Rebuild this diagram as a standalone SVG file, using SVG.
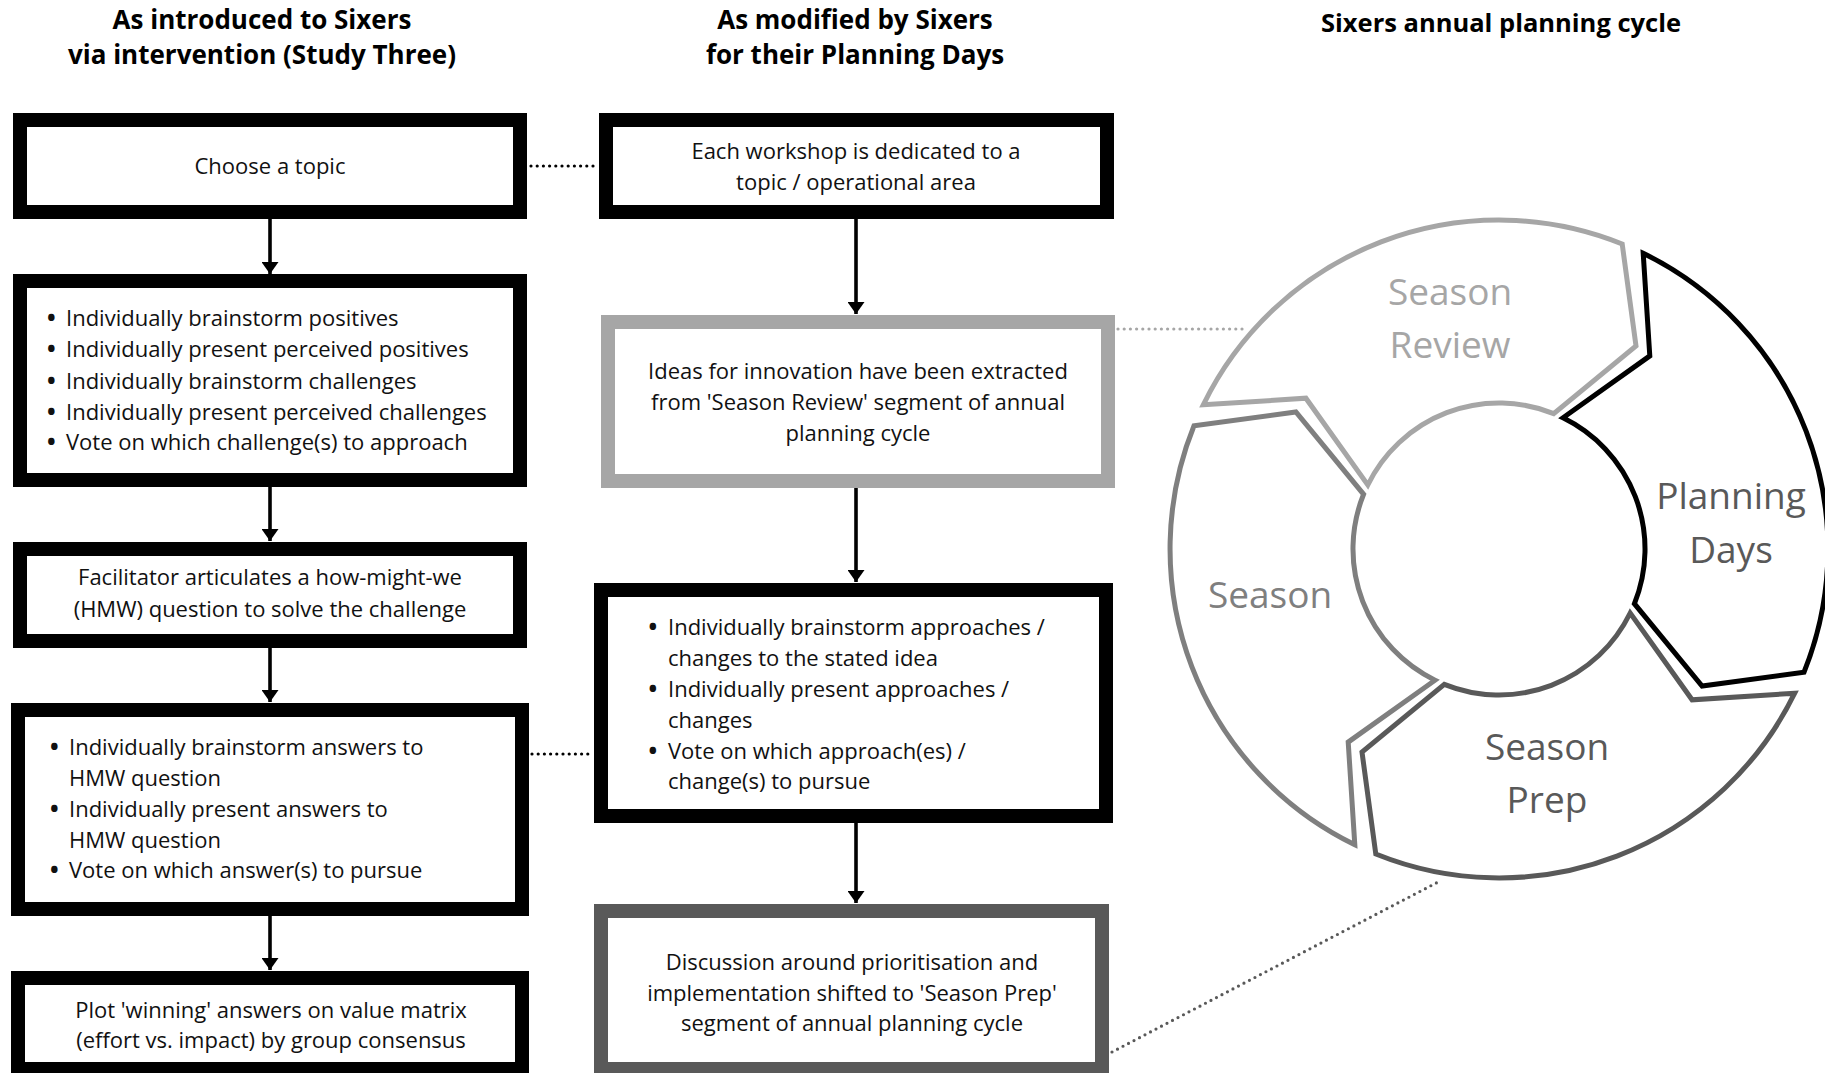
<svg xmlns="http://www.w3.org/2000/svg" width="1825" height="1073" viewBox="0 0 1825 1073">
<style>
  .title{font-family:"Open Sans","Noto Sans",sans-serif;font-weight:bold;font-size:26px;fill:#000;text-anchor:middle}
  .t{font-family:"Open Sans","Noto Sans",sans-serif;font-size:22px;fill:#111}
  .c{text-anchor:middle}
  .b{font-size:23px;font-weight:bold}
  .box{fill:#fff;stroke:#000;stroke-width:14}
  .lg{stroke:#a6a6a6}
  .dg{stroke:#595959}
  .arrow{stroke:#000;stroke-width:3.6;fill:none;marker-end:url(#ah)}
  .dot{fill:none;stroke-width:3.2;stroke-linecap:round;stroke-dasharray:0 6.2}
  .seg{fill:#fff;stroke-width:5;stroke-linejoin:miter}
  .lab{font-family:"Open Sans","Noto Sans",sans-serif;font-size:37px;text-anchor:middle}
</style>
<defs>
  <marker id="ah" markerUnits="userSpaceOnUse" markerWidth="13" markerHeight="17" refX="12" refY="8.5" orient="auto">
    <path d="M0,0 L12,8.5 L0,17 Z" fill="#000"/>
  </marker>
</defs>
<rect width="1825" height="1073" fill="#fff"/>

<g id="titles">
  <text class="title" x="262" y="29">As introduced to Sixers</text>
  <text class="title" x="262" y="64">via intervention (Study Three)</text>
  <text class="title" x="855" y="29">As modified by Sixers</text>
  <text class="title" x="855" y="64">for their Planning Days</text>
  <text class="title" x="1501" y="32" style="font-size:25.5px">Sixers annual planning cycle</text>
</g>

<g id="connectors">
  <line class="arrow" x1="270" y1="219" x2="270" y2="274"/>
  <line class="arrow" x1="270" y1="487" x2="270" y2="541"/>
  <line class="arrow" x1="270" y1="648" x2="270" y2="702"/>
  <line class="arrow" x1="270" y1="916" x2="270" y2="970"/>
  <line class="arrow" x1="856" y1="219" x2="856" y2="314"/>
  <line class="arrow" x1="856" y1="488" x2="856" y2="582"/>
  <line class="arrow" x1="856" y1="823" x2="856" y2="903"/>
  <line class="dot" stroke="#000" x1="531" y1="166" x2="597" y2="166"/>
  <line class="dot" stroke="#000" x1="532" y1="754" x2="592" y2="754"/>
  <line class="dot" stroke="#a6a6a6" x1="1118" y1="329" x2="1248" y2="329"/>
  <line class="dot" stroke="#595959" x1="1112" y1="1052" x2="1440" y2="881"/>
</g>

<g id="node-choose-topic">
  <rect class="box" x="20" y="120" width="500" height="92"/>
  <text class="t c" x="270" y="174">Choose a topic</text>
</g>

<g id="node-brainstorm-challenges">
  <rect class="box" x="20" y="281" width="500" height="199"/>
  <text class="t" y="326"><tspan class="b" x="47">•</tspan><tspan x="66">Individually brainstorm positives</tspan></text>
  <text class="t" y="357"><tspan class="b" x="47">•</tspan><tspan x="66">Individually present perceived positives</tspan></text>
  <text class="t" y="389"><tspan class="b" x="47">•</tspan><tspan x="66">Individually brainstorm challenges</tspan></text>
  <text class="t" y="420"><tspan class="b" x="47">•</tspan><tspan x="66">Individually present perceived challenges</tspan></text>
  <text class="t" y="450"><tspan class="b" x="47">•</tspan><tspan x="66">Vote on which challenge(s) to approach</tspan></text>
</g>

<g id="node-hmw">
  <rect class="box" x="20" y="549" width="500" height="92"/>
  <text class="t c" x="270" y="585">Facilitator articulates a how-might-we</text>
  <text class="t c" x="270" y="617">(HMW) question to solve the challenge</text>
</g>

<g id="node-answers">
  <rect class="box" x="18" y="710" width="504" height="199"/>
  <text class="t" y="755"><tspan class="b" x="50">•</tspan><tspan x="69">Individually brainstorm answers to</tspan></text>
  <text class="t" x="69" y="786">HMW question</text>
  <text class="t" y="817"><tspan class="b" x="50">•</tspan><tspan x="69">Individually present answers to</tspan></text>
  <text class="t" x="69" y="848">HMW question</text>
  <text class="t" y="878"><tspan class="b" x="50">•</tspan><tspan x="69">Vote on which answer(s) to pursue</tspan></text>
</g>

<g id="node-plot">
  <rect class="box" x="18" y="978" width="504" height="91"/>
  <text class="t c" x="271" y="1018">Plot 'winning' answers on value matrix</text>
  <text class="t c" x="271" y="1048">(effort vs. impact) by group consensus</text>
</g>

<g id="node-workshop">
  <rect class="box" x="606" y="120" width="501" height="92"/>
  <text class="t c" x="856" y="159">Each workshop is dedicated to a</text>
  <text class="t c" x="856" y="190">topic / operational area</text>
</g>

<g id="node-ideas">
  <rect class="box lg" x="608" y="322" width="500" height="159"/>
  <text class="t c" x="858" y="379">Ideas for innovation have been extracted</text>
  <text class="t c" x="858" y="410">from 'Season Review' segment of annual</text>
  <text class="t c" x="858" y="441">planning cycle</text>
</g>

<g id="node-approaches">
  <rect class="box" x="601" y="590" width="505" height="226"/>
  <text class="t" y="635"><tspan class="b" x="648.5">•</tspan><tspan x="668">Individually brainstorm approaches /</tspan></text>
  <text class="t" x="668" y="666">changes to the stated idea</text>
  <text class="t" y="697"><tspan class="b" x="648.5">•</tspan><tspan x="668">Individually present approaches /</tspan></text>
  <text class="t" x="668" y="728">changes</text>
  <text class="t" y="759"><tspan class="b" x="648.5">•</tspan><tspan x="668">Vote on which approach(es) /</tspan></text>
  <text class="t" x="668" y="789">change(s) to pursue</text>
</g>

<g id="node-discussion">
  <rect class="box dg" x="601" y="911" width="501" height="158"/>
  <text class="t c" x="852" y="970">Discussion around prioritisation and</text>
  <text class="t c" x="852" y="1001">implementation shifted to 'Season Prep'</text>
  <text class="t c" x="852" y="1031">segment of annual planning cycle</text>
</g>

<g id="cycle">
  <g id="seg-season-review">
    <path class="seg" stroke="#a6a6a6" d="M1203.3,404.8 A329,329 0 0 1 1622.2,244.0 L1636.0,345.9 L1553.7,413.6 A146,146 0 0 0 1367.8,485.0 L1305.9,398.2 Z"/>
    <text class="lab" fill="#a6a6a6" x="1450" y="305">Season</text>
    <text class="lab" fill="#a6a6a6" x="1450" y="358">Review</text>
  </g>
  <g id="seg-planning-days">
    <path class="seg" stroke="#000" stroke-width="5.5" d="M1643.2,253.3 A329,329 0 0 1 1804.0,672.2 L1702.1,686.0 L1634.4,603.7 A146,146 0 0 0 1563.0,417.8 L1649.8,355.9 Z"/>
    <text class="lab" fill="#595959" x="1731" y="509">Planning</text>
    <text class="lab" fill="#595959" x="1731" y="563">Days</text>
  </g>
  <g id="seg-season-prep">
    <path class="seg" stroke="#595959" d="M1794.7,693.2 A329,329 0 0 1 1375.8,854.0 L1362.0,752.1 L1444.3,684.4 A146,146 0 0 0 1630.2,613.0 L1692.1,699.8 Z"/>
    <text class="lab" fill="#595959" x="1547" y="760">Season</text>
    <text class="lab" fill="#595959" x="1547" y="813">Prep</text>
  </g>
  <g id="seg-season">
    <path class="seg" stroke="#7f7f7f" d="M1354.8,844.7 A329,329 0 0 1 1194.0,425.8 L1295.9,412.0 L1363.6,494.3 A146,146 0 0 0 1435.0,680.2 L1348.2,742.1 Z"/>
    <text class="lab" fill="#7f7f7f" x="1270" y="608">Season</text>
  </g>
</g>
</svg>
